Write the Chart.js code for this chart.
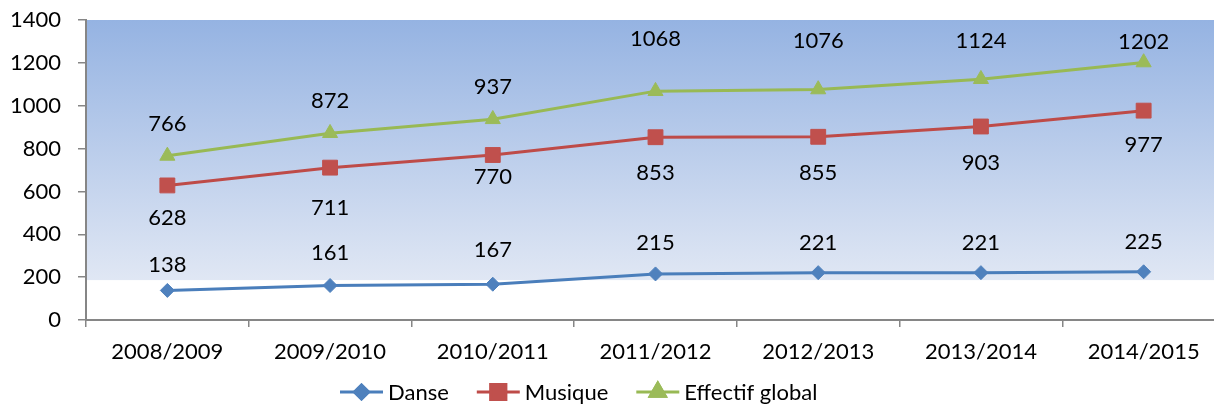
<!DOCTYPE html>
<html>
<head>
<meta charset="utf-8">
<script src="https://cdn.jsdelivr.net/npm/chart.js@4.4.0/dist/chart.umd.min.js"></script>
<style>
  html, body { margin: 0; padding: 0; background: #fff; }
  #wrap { width: 1214px; height: 407px; }
</style>
</head>
<body>
<div id="wrap"><canvas id="chart" width="1214" height="407"></canvas></div>
<script>
// données
const years = ['2008/2009', '2009/2010', '2010/2011', '2011/2012', '2012/2013', '2013/2014', '2014/2015'];
const danse = [138, 161, 167, 215, 221, 221, 225];
const musique = [628, 711, 770, 853, 855, 903, 977];
const effectifGlobal = [766, 872, 937, 1068, 1076, 1124, 1202];
const yTicks = [0, 200, 400, 600, 800, 1000, 1200, 1400];

// décalage vertical des étiquettes (px) -- placées à la main dans l'original
const danseLabelShift = [-26, -33, -34, -31, -30, -30, -30];
const musiqueLabelShift = [32, 40, 22, 36, 36, 36, 34];
const effectifLabelShift = [-32, -32, -32, -52, -49, -38, -21];

const FONT = 'Lato';

// l'original est rogné à droite : la zone de traçage dépasse le bord de ~11px
const extendRight = {
  id: 'extendRight',
  afterLayout(chart) {
    const x = chart.scales.x;
    const right = chart.width + 11;
    x.right = right;
    x.width = right - x.left;
    chart.chartArea.right = right;
    chart.chartArea.width = right - chart.chartArea.left;
    x.configure();
  }
};

// fond dégradé de la zone de traçage
const plotBackground = {
  id: 'plotBackground',
  beforeDraw(chart) {
    const { ctx, chartArea: a } = chart;
    const bottom = a.top + (a.bottom - a.top) * 0.867;
    const g = ctx.createLinearGradient(0, a.top, 0, bottom);
    g.addColorStop(0, '#95b3e2');
    g.addColorStop(1, '#e0e7f4');
    ctx.save();
    ctx.fillStyle = g;
    ctx.fillRect(a.left, a.top, a.right - a.left, bottom - a.top);
    ctx.restore();
  }
};

// étiquettes de valeurs
const valueLabels = {
  id: 'valueLabels',
  afterDatasetsDraw(chart) {
    const ctx = chart.ctx;
    ctx.save();
    ctx.font = '22px ' + FONT;
    ctx.fillStyle = '#000';
    ctx.textAlign = 'center';
    ctx.textBaseline = 'middle';
    chart.data.datasets.forEach((ds, i) => {
      const meta = chart.getDatasetMeta(i);
      meta.data.forEach((pt, j) => {
        ctx.fillText(String(ds.data[j]), pt.x, pt.y + ds.labelShift[j]);
      });
    });
    ctx.restore();
  }
};

// légende en bas (trait + marqueur)
const bottomLegend = {
  id: 'bottomLegend',
  afterDraw(chart) {
    const ctx = chart.ctx;
    const lineW = 43, gap = 5, itemGap = 28, y = 392;
    ctx.save();
    ctx.font = '22px ' + FONT;
    const items = chart.data.datasets.map(ds => ({ ds, w: lineW + gap + ctx.measureText(ds.label).width }));
    let x = 340;
    items.forEach(({ ds, w }) => {
      ctx.strokeStyle = ds.borderColor;
      ctx.lineWidth = 3;
      ctx.beginPath();
      ctx.moveTo(x, y);
      ctx.lineTo(x + lineW, y);
      ctx.stroke();
      Chart.helpers.drawPoint(ctx, {
        pointStyle: ds.pointStyle,
        radius: ds.pointRadius,
        borderWidth: 1,
        rotation: 0
      }, x + lineW / 2, y);
      ctx.fillStyle = ds.pointBackgroundColor;
      ctx.strokeStyle = ds.pointBorderColor;
      ctx.fill();
      ctx.stroke();
      ctx.fillStyle = '#000';
      ctx.textAlign = 'left';
      ctx.textBaseline = 'middle';
      ctx.fillText(ds.label, x + lineW + gap, y + 1);
      x += w + itemGap;
    });
    ctx.restore();
  }
};

function serie(label, data, color, marker, style, radius, shift) {
  return {
    label: label,
    data: data,
    borderColor: color,
    backgroundColor: marker,
    borderWidth: 3,
    tension: 0,
    pointStyle: style,
    pointRadius: radius,
    pointHoverRadius: radius,
    pointBackgroundColor: marker,
    pointBorderColor: marker,
    pointBorderWidth: 1,
    labelShift: shift
  };
}

document.fonts.load('22px ' + FONT).then(() => {
  Chart.defaults.font.family = FONT;
  Chart.defaults.font.size = 22;
  Chart.defaults.color = '#000';

  new Chart(document.getElementById('chart'), {
    type: 'line',
    data: {
      labels: years,
      datasets: [
        serie('Danse', danse, '#4a7ebb', '#4f81bd', 'rectRot', 7, danseLabelShift),
        serie('Musique', musique, '#be4b48', '#c0504d', 'rect', 10.5, musiqueLabelShift),
        serie('Effectif global', effectifGlobal, '#98b954', '#9bbb59', 'triangle', 8.7, effectifLabelShift)
      ]
    },
    options: {
      responsive: false,
      animation: false,
      layout: { padding: { left: 10, right: 0, top: 20, bottom: 39 } },
      plugins: {
        legend: { display: false },
        tooltip: { enabled: false }
      },
      scales: {
        x: {
          offset: true,
          grid: { offset: true, drawOnChartArea: false, drawTicks: true, tickLength: 7, color: '#868686', lineWidth: 1.5 },
          border: { display: true, color: '#868686', width: 2 },
          ticks: { padding: 12, maxRotation: 0, color: '#000' },
          afterFit(scale) { scale.height = 48; scale.paddingLeft = 0; scale.paddingRight = 0; }
        },
        y: {
          min: 0,
          max: 1400,
          afterBuildTicks(scale) { scale.ticks = yTicks.map(v => ({ value: v })); },
          grid: { drawOnChartArea: false, drawTicks: true, tickLength: 8, color: '#868686', lineWidth: 1.5 },
          border: { display: true, color: '#868686', width: 2 },
          ticks: { padding: 17, color: '#000', callback: v => String(v) },
          afterFit(scale) { scale.width = 76; scale.paddingTop = 0; scale.paddingBottom = 0; }
        }
      }
    },
    plugins: [extendRight, plotBackground, valueLabels, bottomLegend]
  });
});
</script>
</body>
</html>
